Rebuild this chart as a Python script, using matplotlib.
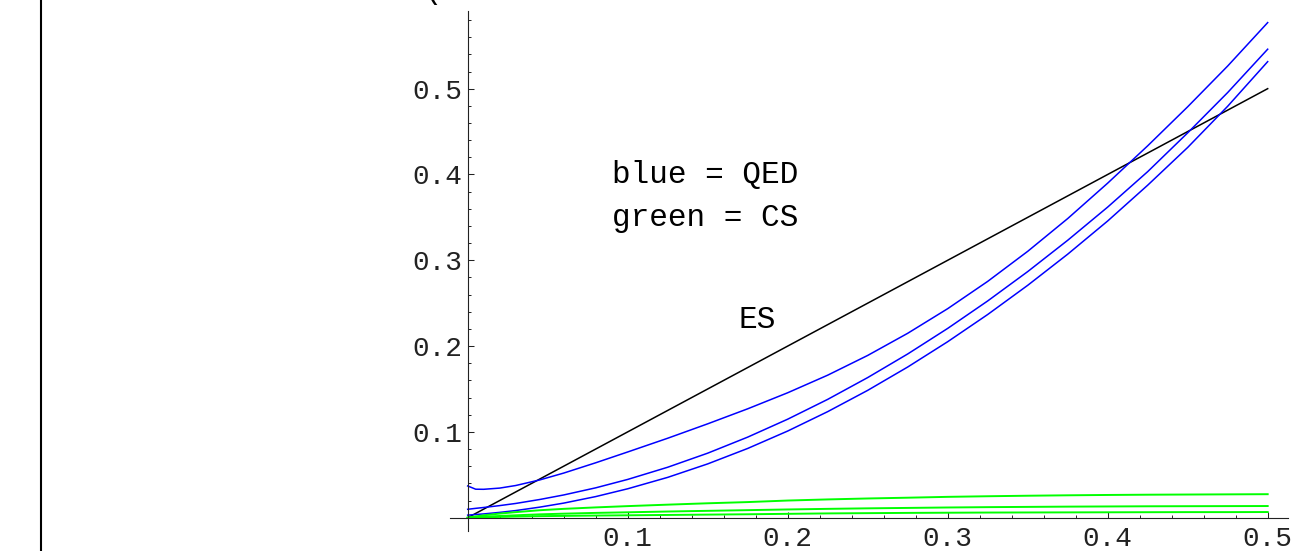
import matplotlib
matplotlib.use("Agg")
import matplotlib.pyplot as plt
from matplotlib.lines import Line2D
from matplotlib.ticker import FixedLocator, FixedFormatter

# ---- data ----
x_vals = [0, 0.005, 0.01, 0.02, 0.03, 0.045, 0.06, 0.08, 0.1, 0.125, 0.15, 0.175,
          0.2, 0.225, 0.25, 0.275, 0.3, 0.325, 0.35, 0.375, 0.4, 0.425, 0.45, 0.475, 0.5]

qed_top = [0.037, 0.0332, 0.0331, 0.0345, 0.0375, 0.044, 0.052, 0.064, 0.0766, 0.0926, 0.1094, 0.1269,
           0.1456, 0.1661, 0.1891, 0.2149, 0.2436, 0.2754, 0.3104, 0.3486, 0.3899, 0.4334, 0.4789, 0.5264, 0.577]
qed_mid = [0.0098, 0.0109, 0.0119, 0.0141, 0.0166, 0.0212, 0.0265, 0.0348, 0.0446, 0.0588, 0.0752, 0.0939,
           0.1148, 0.1379, 0.1633, 0.1908, 0.2206, 0.2526, 0.2868, 0.3233, 0.362, 0.4033, 0.4485, 0.4955, 0.546]
qed_low = [0.003, 0.0037, 0.0044, 0.0062, 0.0083, 0.0123, 0.0170, 0.0246, 0.0337, 0.0470, 0.0627, 0.0807,
           0.101, 0.1236, 0.1484, 0.1756, 0.2051, 0.2368, 0.2708, 0.3071, 0.3458, 0.3875, 0.4315, 0.4795, 0.5315]

cs_top = [0.0, 0.0015, 0.0028, 0.0048, 0.0065, 0.0087, 0.0103, 0.012, 0.0135, 0.0152, 0.0168, 0.0182,
          0.0200, 0.0213, 0.0224, 0.0233, 0.0243, 0.025, 0.0256, 0.0261, 0.0265, 0.0268, 0.027, 0.0272, 0.0274]
cs_mid = [0.0, 0.0006, 0.0011, 0.002, 0.0028, 0.0039, 0.0047, 0.0056, 0.0063, 0.0072, 0.008, 0.0088,
          0.0096, 0.0103, 0.0109, 0.0114, 0.0119, 0.0123, 0.0126, 0.0129, 0.0131, 0.0133, 0.0134, 0.0135, 0.0136]
cs_low = [0.0, 0.0003, 0.0005, 0.0009, 0.0013, 0.0018, 0.0021, 0.0025, 0.0028, 0.0032, 0.0036, 0.004,
          0.0045, 0.005, 0.0053, 0.0056, 0.0058, 0.006, 0.0061, 0.0062, 0.0063, 0.0064, 0.0065, 0.0065, 0.0066]

es_x = [0.0, 0.5]
es_y = [0.0, 0.5]

major_ticks = [0.1, 0.2, 0.3, 0.4, 0.5]
major_labels = ["0.1", "0.2", "0.3", "0.4", "0.5"]
x_minor = [0.02, 0.04, 0.06, 0.08, 0.12, 0.14, 0.16, 0.18, 0.22, 0.24, 0.26, 0.28,
           0.32, 0.34, 0.36, 0.38, 0.42, 0.44, 0.46, 0.48]
y_minor = x_minor + [0.52, 0.54, 0.56, 0.58]

# ---- figure ----
W, H = 1296, 551
fig = plt.figure(figsize=(W / 100, H / 100), dpi=100)
fig.patch.set_facecolor("white")

left, right = 450 / W, 1288 / W
bottom, top = 1 - 530.8 / H, 1 - 10.5 / H
ax = fig.add_axes([left, bottom, right - left, top - bottom])
ax.set_xlim(-0.01106, 0.5127)
ax.set_ylim(-0.01527, 0.5911)
ax.patch.set_alpha(0)

for s in ["top", "right"]:
    ax.spines[s].set_visible(False)
ax.spines["left"].set_position(("data", 0))
ax.spines["bottom"].set_position(("data", 0))
for s in ["left", "bottom"]:
    ax.spines[s].set_linewidth(0.8)
    ax.spines[s].set_color("#222222")

mono = "Liberation Mono"
ax.xaxis.set_major_locator(FixedLocator(major_ticks))
ax.xaxis.set_major_formatter(FixedFormatter(major_labels))
ax.yaxis.set_major_locator(FixedLocator(major_ticks))
ax.yaxis.set_major_formatter(FixedFormatter(major_labels))
ax.xaxis.set_minor_locator(FixedLocator(x_minor))
ax.yaxis.set_minor_locator(FixedLocator(y_minor))
ax.tick_params(which="major", direction="in", length=4.3, width=0.75, color="#222222")
ax.tick_params(which="minor", direction="in", length=2.5, width=0.7, color="#222222")
ax.tick_params(axis="x", which="major", pad=6)
ax.tick_params(axis="y", which="major", pad=4)
for lab in ax.get_xticklabels() + ax.get_yticklabels():
    lab.set_fontfamily(mono)
    lab.set_fontsize(20)
    lab.set_color("#222222")

lw = 1.1
ax.plot(es_x, es_y, color="black", lw=lw, clip_on=False)
for ys in (qed_top, qed_mid, qed_low):
    ax.plot(x_vals, ys, color=(0, 0, 1), lw=lw, clip_on=False)
for ys in (cs_top, cs_mid, cs_low):
    ax.plot(x_vals, ys, color=(0, 1, 0), lw=1.4, clip_on=False)

ax.text(0.0902, 0.3905, "blue = QED", fontfamily=mono, fontsize=22.4, ha="left", va="baseline")
ax.text(0.0902, 0.3403, "green = CS", fontfamily=mono, fontsize=22.4, ha="left", va="baseline")
ax.text(0.169, 0.2207, "ES", fontfamily=mono, fontsize=22.4, ha="left", va="baseline")

# cut-off text at the very top of the frame
fig.text(424 / W, 1 + 2 / H, "(", fontfamily=mono, fontsize=22, ha="left", va="baseline")

# left frame line
fig.add_artist(Line2D([41 / W, 41 / W], [0, 1], lw=1.5, color="black", transform=fig.transFigure))

fig.savefig("out.png", dpi=100, facecolor="white")
